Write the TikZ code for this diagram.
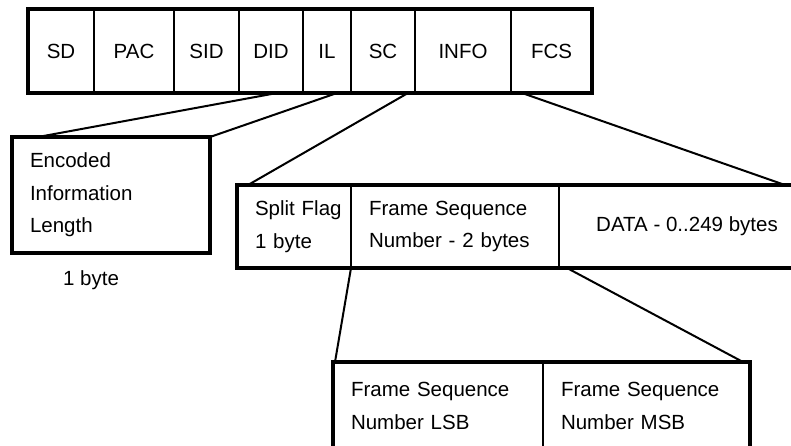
\documentclass[tikz,border=0pt]{standalone}
\usepackage{fontspec}
\setmainfont{Liberation Sans}
\usetikzlibrary{positioning}
\tikzset{
  fs/.style   ={font=\fontsize{20.5}{32.5}\selectfont},
  cell/.style ={draw, line width=2pt, inner sep=0pt, outer sep=0pt, minimum height=84pt},
  fld/.style  ={draw, line width=2pt, inner xsep=18pt, inner ysep=0pt, outer sep=0pt, align=left},
  frame/.style={line width=4.5pt},
  link/.style ={line width=2pt}
}

\begin{document}
\begin{tikzpicture}[x=1pt, y=-1pt, fs]
\useasboundingbox (0,0) rectangle (791,445);
\clip (0,0) rectangle (791,445);
\node[cell, minimum width=66pt] (sd) at (61,51) {SD};
\node[cell, minimum width=80pt, right=0pt of sd] (pac) {PAC};
\node[cell, minimum width=65pt, right=0pt of pac] (sid) {SID};
\node[cell, minimum width=64pt, right=0pt of sid] (did) {DID};
\node[cell, minimum width=48pt, right=0pt of did] (il) {IL};
\node[cell, minimum width=64pt, right=0pt of il] (sc) {SC};
\node[cell, minimum width=96pt, right=0pt of sc] (info) {INFO};
\node[cell, minimum width=81pt, right=0pt of info] (fcs) {FCS};
\draw[frame] (sd.north west) rectangle (fcs.south east);

\node[fld, frame, text width=162pt, minimum height=116pt, anchor=north west] (eil) at (12,137)
  {Encoded\\Information\\Length};
\node[inner sep=0pt, below=17pt of eil.south, xshift=-20pt] (eilsz) {1 byte};

\node[fld, text width=78pt, minimum height=83pt, anchor=north west] (sf) at (237,185) {Split~Flag\\1 byte};
\node[fld, text width=172pt, minimum height=83pt, right=0pt of sf] (fsn) {Frame Sequence\\Number - 2 bytes};
\node[cell, minimum width=256pt, minimum height=83pt, right=0pt of fsn] (data) {DATA - 0..249 bytes};
\draw[frame] (sf.north west) rectangle (data.south east);

\node[fld, text width=174pt, minimum height=88pt, anchor=north west] (lsb) at (333,362) {Frame Sequence\\Number LSB};
\node[fld, text width=171pt, minimum height=88pt, right=0pt of lsb] (msb) {Frame Sequence\\Number MSB};
\draw[frame] (lsb.north west) rectangle (msb.south east);

\draw[link] ([xshift=6pt]did.south) -- ([xshift=26pt]eil.north west);
\draw[link] ([xshift=10pt]il.south) -- (eil.north east);
\draw[link] ([xshift=25pt]sc.south) -- ([xshift=11pt]sf.north west);
\draw[link] ([xshift=11pt]fcs.south west) -- ([xshift=-30pt]data.north east);
\draw[link] (fsn.south west) -- ([xshift=2pt]lsb.north west);
\draw[link] ([xshift=8pt]fsn.south east) -- ([xshift=-7pt]msb.north east);
\end{tikzpicture}
\end{document}
